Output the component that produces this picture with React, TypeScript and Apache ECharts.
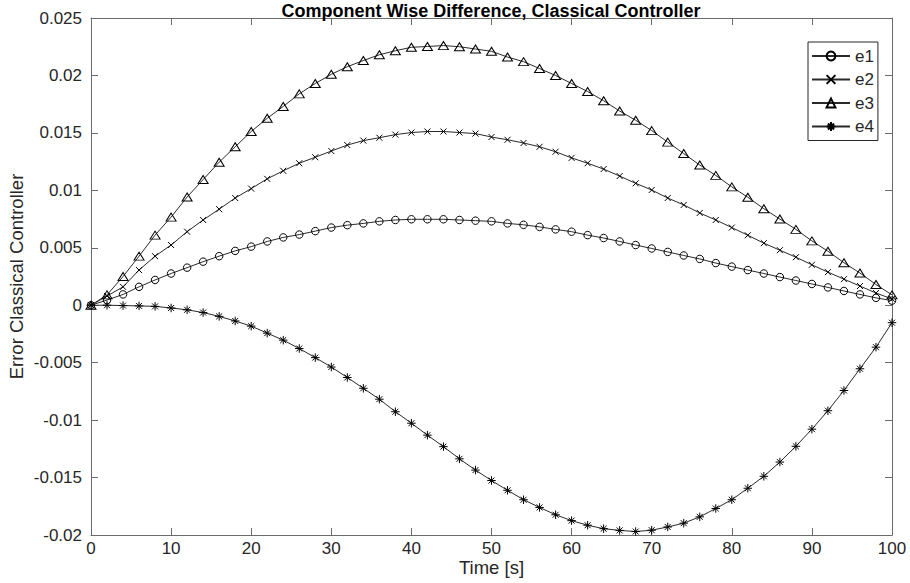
import React, { useEffect, useRef } from "react";
import * as echarts from "echarts";

const times = [0, 2, 4, 6, 8, 10, 12, 14, 16, 18, 20, 22, 24, 26, 28, 30, 32, 34, 36, 38, 40, 42, 44, 46, 48, 50, 52, 54, 56, 58, 60, 62, 64, 66, 68, 70, 72, 74, 76, 78, 80, 82, 84, 86, 88, 90, 92, 94, 96, 98, 100];

const e1 = [0, 0.00045, 0.00094, 0.0016, 0.0022, 0.00276, 0.00327, 0.00379, 0.00427, 0.00473, 0.0051, 0.00555, 0.0059, 0.00615, 0.00645, 0.00676, 0.00697, 0.00712, 0.0073, 0.00742, 0.00748, 0.00748, 0.00748, 0.00742, 0.00736, 0.0073, 0.00712, 0.007, 0.00682, 0.0066, 0.0064, 0.0061, 0.00585, 0.00555, 0.00524, 0.00494, 0.00464, 0.00433, 0.00403, 0.00367, 0.00336, 0.00306, 0.00276, 0.00245, 0.00215, 0.00185, 0.00155, 0.00124, 0.00094, 0.00064, 0.0004];

const e2 = [0, 0.0008, 0.0016, 0.00306, 0.00427, 0.00524, 0.0064, 0.00742, 0.00836, 0.00933, 0.01015, 0.011, 0.0117, 0.01236, 0.01288, 0.01342, 0.01394, 0.01433, 0.01458, 0.01485, 0.01503, 0.01512, 0.01512, 0.01503, 0.01494, 0.01464, 0.0144, 0.01412, 0.01379, 0.01336, 0.01282, 0.01236, 0.01185, 0.01124, 0.01061, 0.01003, 0.00933, 0.00873, 0.00803, 0.00742, 0.00676, 0.00609, 0.0054, 0.00479, 0.00418, 0.00352, 0.00288, 0.00227, 0.00167, 0.00106, 0.00055];

const e3 = [0, 0.0009, 0.0025, 0.00427, 0.0061, 0.00767, 0.00942, 0.01094, 0.01245, 0.01379, 0.01512, 0.01627, 0.0173, 0.0184, 0.0193, 0.0201, 0.02076, 0.0213, 0.0218, 0.02215, 0.02245, 0.02252, 0.0226, 0.0225, 0.0223, 0.0221, 0.0216, 0.0212, 0.0206, 0.02, 0.0193, 0.0186, 0.0178, 0.0169, 0.0161, 0.0152, 0.0142, 0.0132, 0.0122, 0.0113, 0.0103, 0.0094, 0.0084, 0.0075, 0.0066, 0.0056, 0.0047, 0.0037, 0.0028, 0.0018, 0.0009];

const e4 = [0, 0, -0.00003, -0.00006, -0.0001, -0.00024, -0.0004, -0.00064, -0.00097, -0.00137, -0.00182, -0.00243, -0.00304, -0.00377, -0.00456, -0.00538, -0.00629, -0.00723, -0.00818, -0.00927, -0.01027, -0.01131, -0.01231, -0.01337, -0.01435, -0.01526, -0.01611, -0.01693, -0.0176, -0.01824, -0.01875, -0.01915, -0.01945, -0.0196, -0.0197, -0.01958, -0.0193, -0.01897, -0.01842, -0.01769, -0.01693, -0.01593, -0.01489, -0.01365, -0.01228, -0.01079, -0.00918, -0.00742, -0.00553, -0.00365, -0.00152];

const seriesNames = ["e1", "e2", "e3", "e4"];
const xTicks = { min: 0, max: 100, interval: 10 };
const yTicks = { min: -0.02, max: 0.025, interval: 0.005 };

const FONT = "'Liberation Sans', Arial, Helvetica, sans-serif";
const AXIS_COLOR = "#6b6b6b";
const LABEL_COLOR = "#262626";

const symbols = [
  "circle",
  "path://M0 0L10 10M10 0L0 10",
  "triangle",
  "path://M5 0L5 10M0 5L10 5M1.5 1.5L8.5 8.5M8.5 1.5L1.5 8.5",
];
const symbolSizes = [7.5, 6, [10, 8], 8.5];

export default function App() {
  const ref = useRef<HTMLDivElement>(null);
  useEffect(() => {
    if (!ref.current) return;
    const chart = echarts.init(ref.current, undefined, { renderer: "svg" });
    const dataSets = [e1, e2, e3, e4];
    const axisLine = { show: true, onZero: false, lineStyle: { color: AXIS_COLOR, width: 1 } };
    const axisTick = { show: true, inside: true, length: 7, lineStyle: { color: AXIS_COLOR, width: 1 } };
    chart.setOption({
      animation: false,
      backgroundColor: "#ffffff",
      textStyle: { fontFamily: FONT },
      title: {
        text: "Component Wise Difference, Classical Controller",
        left: 491,
        textAlign: "center",
        top: 2,
        padding: 0,
        textStyle: { fontFamily: FONT, fontSize: 18, fontWeight: "bold", color: "#000" },
      },
      grid: { left: 91, right: 18, top: 18, bottom: 48, containLabel: false, outerBoundsMode: "none" },
      legend: {
        data: seriesNames,
        orient: "vertical",
        left: 808,
        top: 42,
        backgroundColor: "#fff",
        borderColor: "#262626",
        borderWidth: 1,
        borderRadius: 0,
        padding: [5, 4, 5, 3],
        itemGap: 5.5,
        itemWidth: 38,
        itemHeight: 11,
        textStyle: { fontFamily: FONT, fontSize: 17, color: LABEL_COLOR, lineHeight: 18, height: 18 },
      },
      xAxis: [
        {
          type: "value",
          min: xTicks.min,
          max: xTicks.max,
          interval: xTicks.interval,
          position: "bottom",
          name: "Time [s]",
          nameLocation: "middle",
          nameGap: 23,
          nameMoveOverlap: false,
          nameTextStyle: { fontFamily: FONT, fontSize: 18.5, color: LABEL_COLOR },
          axisLine,
          axisTick,
          splitLine: { show: false },
          axisLabel: { fontFamily: FONT, fontSize: 17, color: LABEL_COLOR, margin: 5 },
        },
        {
          type: "value",
          min: xTicks.min,
          max: xTicks.max,
          interval: xTicks.interval,
          position: "top",
          axisLine,
          axisTick,
          splitLine: { show: false },
          axisLabel: { show: false },
        },
      ],
      yAxis: [
        {
          type: "value",
          min: yTicks.min,
          max: yTicks.max,
          interval: yTicks.interval,
          position: "left",
          name: "Error Classical Controller",
          nameLocation: "middle",
          nameGap: 65,
          nameMoveOverlap: false,
          nameTextStyle: { fontFamily: FONT, fontSize: 18.5, color: LABEL_COLOR },
          axisLine,
          axisTick,
          splitLine: { show: false },
          axisLabel: {
            fontFamily: FONT,
            fontSize: 17,
            color: LABEL_COLOR,
            margin: 9,
            formatter: (v: number) => String(Number(v.toFixed(4))),
          },
        },
        {
          type: "value",
          min: yTicks.min,
          max: yTicks.max,
          interval: yTicks.interval,
          position: "right",
          axisLine,
          axisTick,
          splitLine: { show: false },
          axisLabel: { show: false },
        },
      ],
      series: seriesNames.map((name, i) => ({
        name,
        type: "line",
        xAxisIndex: 0,
        yAxisIndex: 0,
        data: times.map((t, k) => [t, dataSets[i][k]]),
        symbol: symbols[i],
        symbolSize: symbolSizes[i],
        showSymbol: true,
        showAllSymbol: true,
        lineStyle: { color: "#2a2a2a", width: 1 },
        itemStyle: { color: "rgba(0,0,0,0)", borderColor: "#000", borderWidth: 1 },
        emphasis: { disabled: true },
        z: 2 + i,
      })),
    });
    return () => chart.dispose();
  }, []);
  return <div ref={ref} style={{ width: 910, height: 583, position: "absolute", left: 0, top: 0 }} />;
}
